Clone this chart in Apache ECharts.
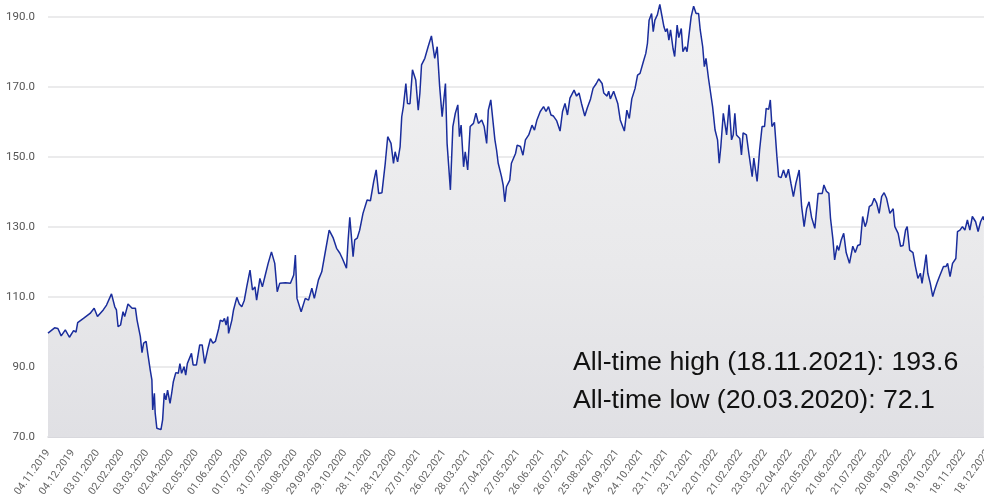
<!DOCTYPE html>
<html>
<head>
<meta charset="utf-8">
<script src="https://cdn.jsdelivr.net/npm/echarts@6/dist/echarts.min.js"></script>
<style>
html, body { margin: 0; padding: 0; background: #fff; }
#chart { width: 984px; height: 501px; }
</style>
</head>
<body>
<div id="chart"></div>
<script>
// days counted from 04.11.2019
let days = [
    0, 2, 8, 12, 16, 21, 26, 31, 34, 36, 43, 51, 56, 60, 67, 71, 77, 81, 83, 85,
    88, 91, 93, 97, 102, 106, 108, 112, 114, 116, 119, 121, 124, 126, 127, 129, 130, 132, 134, 137,
    139, 141, 143, 145, 148, 150, 152, 155, 158, 160, 162, 165, 167, 169, 174, 176, 180, 184, 187, 190,
    194, 197, 200, 203, 205, 207, 209, 212, 214, 216, 218, 219, 223, 225, 229, 232, 235, 238, 241, 245,
    248, 251, 253, 257, 260, 263, 267, 271, 275, 278, 281, 288, 294, 298, 300, 302, 307, 312, 316, 320,
    323, 328, 332, 336, 341, 346, 350, 354, 357, 362, 364, 366, 370, 372, 375, 378, 382, 387, 391, 395,
    398, 401, 405, 409, 412, 416, 419, 421, 424, 427, 429, 431, 434, 436, 439, 442, 446, 449, 451, 453,
    457, 461, 465, 467, 469, 472, 475, 478, 482, 484, 488, 491, 494, 497, 499, 501, 504, 506, 509, 512,
    516, 519, 522, 526, 529, 532, 534, 537, 542, 544, 546, 548, 550, 552, 554, 556, 560, 562, 567, 569,
    573, 576, 579, 583, 587, 590, 593, 597, 601, 604, 607, 610, 613, 617, 621, 624, 627, 630, 633, 638,
    641, 644, 647, 651, 654, 658, 661, 665, 668, 672, 674, 678, 680, 682, 686, 688, 691, 694, 696, 699,
    702, 705, 708, 712, 715, 718, 722, 725, 727, 729, 732, 734, 736, 739, 742, 744, 747, 749, 751, 753,
    755, 758, 760, 763, 765, 768, 770, 773, 775, 777, 780, 783, 786, 789, 791, 794, 796, 798, 801, 803,
    806, 809, 812, 814, 816, 819, 823, 826, 829, 831, 833, 835, 839, 841, 843, 847, 850, 854, 856, 860,
    863, 866, 869, 871, 874, 876, 878, 881, 884, 886, 889, 892, 895, 898, 901, 904, 907, 911, 914, 917,
    920, 923, 926, 930, 934, 939, 941, 944, 947, 949, 952, 954, 957, 959, 962, 965, 968, 972, 976, 979,
    982, 985, 988, 991, 993, 996, 999, 1002, 1005, 1008, 1011, 1014, 1017, 1021, 1025, 1027, 1031, 1034, 1037, 1040,
    1042, 1045, 1049, 1052, 1055, 1058, 1060, 1063, 1065, 1067, 1070, 1073, 1075, 1078, 1081, 1083, 1086, 1089, 1091, 1094,
    1097, 1099, 1101, 1103, 1106, 1109, 1112, 1115, 1118, 1121, 1125, 1128, 1131, 1134, 1135
];

let prices = [
    99.7, 100, 101.2, 101, 98.9, 100.6, 98.5, 100.4, 100, 102.7, 103.9, 105.3, 106.8, 104.4, 106.3, 107.7, 110.9, 107.2, 106.3, 101.5,
    102, 105.8, 104.4, 108, 106.8, 106.8, 103.4, 98.7, 94.1, 96.8, 97.3, 93.9, 89.1, 86.3, 77.7, 82.5, 76.8, 72.5, 72.4, 72.1,
    74.9, 82.5, 80.6, 83.4, 79.6, 82.5, 85.8, 88.4, 88.2, 91, 88.2, 90.1, 87.7, 91, 93.9, 90.6, 90.6, 96.3, 96.3, 91,
    95.3, 98.1, 96.8, 97.3, 96.8, 101, 103.4, 103, 103.9, 102, 104.4, 99.6, 103.4, 106.3, 109.9, 108, 107.2, 109, 112.9, 117.7,
    112, 112.9, 109.1, 115.3, 112.9, 115.8, 119.6, 122.9, 119.6, 111.5, 113.9, 114.1, 113.9, 116.3, 122, 109.6, 105.8, 109.6, 109.1, 112.5,
    109.6, 114.9, 117.2, 122.5, 129.1, 126.8, 123.9, 122.5, 121, 118.2, 126.3, 132.8, 121.5, 126.3, 126.8, 129.1, 133.9, 137.7, 137.5, 143,
    146.3, 139.6, 139.8, 148.2, 155.8, 153.9, 148.2, 151.5, 148.6, 152.9, 161.5, 164.4, 171, 165.3, 165.2, 174.9, 172, 163.4, 168.2, 176.3,
    178.2, 181.5, 184.6, 184.4, 178.2, 181.5, 170.1, 161.5, 171, 153.9, 140.6, 158.7, 162.5, 164.9, 155.8, 159.1, 147.2, 151.5, 146.3, 158.7,
    159.6, 162.5, 159.6, 160.6, 158.7, 153.9, 163.4, 166.3, 154.9, 152, 148.2, 148.6, 144.4, 142, 137.2, 141.5, 143.4, 148.2, 151, 153.4,
    153, 150.5, 154.9, 156.3, 159.1, 157.7, 160.6, 163, 164.4, 163, 164.4, 162, 161.7, 160.3, 157.4, 163, 165.3, 162, 166.8, 169.1,
    167.4, 168.3, 165.3, 161.7, 164, 166.6, 169.6, 171, 172.3, 171, 168.3, 167.4, 168.8, 166.6, 168.8, 168.3, 165.3, 160.6, 161, 157.4,
    163.4, 161, 166.6, 169.6, 173.4, 173.9, 177.2, 179.6, 182.5, 189.1, 191, 185.8, 189.1, 190.6, 193.6, 191, 187.2, 185.8, 186.7, 183.4,
    186.3, 181, 178.7, 187.7, 184.1, 186.7, 180.1, 181.5, 180.1, 179.6, 190.1, 193.1, 191, 191, 186.3, 181.5, 175.8, 178.2, 172.5, 172.7,
    164.4, 157.7, 154.9, 148.2, 153, 162.5, 156.3, 164.9, 154.9, 156.3, 162.5, 156.3, 155.3, 150.6, 156.9, 156.3, 151, 144.4, 149.7, 143,
    152, 158.7, 158.7, 163.9, 163.6, 166.3, 158.7, 159.9, 150.1, 144.4, 144.1, 146.3, 144.1, 146.5, 142.5, 138.7, 142.5, 146.3, 135.8, 130.1,
    135.2, 137.2, 132.8, 129.6, 139.6, 139.6, 142, 140.2, 139.6, 132.5, 126.3, 120.6, 124.7, 123.3, 126.3, 128.2, 122.7, 119.6, 124.5, 122.7,
    124.7, 125, 133, 130.1, 131.5, 135.8, 136.3, 138.2, 136.8, 133.9, 138.7, 139.8, 138.2, 133.9, 135.2, 130.1, 128.2, 124.5, 124.7, 129.1,
    130.1, 123.4, 122.7, 118.7, 115.3, 116.8, 113.9, 118.7, 122.1, 116.8, 113.9, 110.1, 111.8, 113.9, 115.8, 115.3, 118.7, 118.7, 119.6, 115.8,
    119.6, 119.2, 121, 128.7, 129.1, 130.1, 129.1, 132, 129.1, 133, 131.5, 128.7, 131.5, 133, 132
];

// one label every 30 days
let tickLabels = [
    '04.11.2019', '04.12.2019', '03.01.2020', '02.02.2020', '03.03.2020', '02.04.2020', '02.05.2020',
    '01.06.2020', '01.07.2020', '31.07.2020', '30.08.2020', '29.09.2020', '29.10.2020', '28.11.2020',
    '28.12.2020', '27.01.2021', '26.02.2021', '28.03.2021', '27.04.2021', '27.05.2021', '26.06.2021',
    '26.07.2021', '25.08.2021', '24.09.2021', '24.10.2021', '23.11.2021', '23.12.2021', '22.01.2022',
    '21.02.2022', '23.03.2022', '22.04.2022', '22.05.2022', '21.06.2022', '21.07.2022', '20.08.2022',
    '19.09.2022', '19.10.2022', '18.11.2022', '18.12.2022'
];

let notes = [
    'All-time high (18.11.2021): 193.6',
    'All-time low (20.03.2020): 72.1'
];

let chart = echarts.init(document.getElementById('chart'));

let option = {
    animation: false,
    backgroundColor: '#fff',
    grid: {
        left: 48,
        right: -4,
        top: 3,
        bottom: 64,
        outerBoundsMode: 'none'
    },
    xAxis: {
        type: 'value',
        min: 0,
        max: 1140,
        interval: 30,
        splitLine: { show: false },
        axisTick: { show: false },
        axisLine: { lineStyle: { color: '#d2d2d8', width: 1.5 } },
        axisLabel: {
            rotate: 54,
            margin: 14,
            fontSize: 10.5,
            color: '#666',
            fontFamily: 'Roboto, sans-serif',
            formatter: function (v) {
                return tickLabels[Math.round(v / 30)] || '';
            }
        }
    },
    yAxis: {
        type: 'value',
        min: 70,
        max: 194,
        interval: 20,
        axisLine: { show: false },
        axisTick: { show: false },
        axisLabel: {
            showMaxLabel: false,
            margin: 13,
            fontSize: 11.5,
            color: '#555',
            fontFamily: 'Roboto, sans-serif',
            formatter: function (v) {
                return v.toFixed(1);
            }
        },
        splitLine: {
            showMaxLine: false,
            lineStyle: { color: '#e4e4e6', width: 1.5 }
        }
    },
    series: [
        {
            type: 'line',
            data: days.map(function (d, i) { return [d, prices[i]]; }),
            symbol: 'none',
            lineStyle: { color: '#1a2d9c', width: 1.5 },
            areaStyle: {
                origin: 'start',
                opacity: 1,
                color: new echarts.graphic.LinearGradient(0, 0, 0, 1, [
                    { offset: 0, color: '#f1f1f2' },
                    { offset: 0.6, color: '#e9e9eb' },
                    { offset: 1, color: '#e0e0e4' }
                ])
            }
        }
    ],
    graphic: [
        {
            type: 'text',
            x: 573,
            y: 363,
            z: 100,
            style: {
                text: notes[0],
                fontSize: 26.7,
                fontFamily: '"Liberation Sans", Arial, sans-serif',
                fill: '#111',
                verticalAlign: 'middle'
            }
        },
        {
            type: 'text',
            x: 573,
            y: 401,
            z: 100,
            style: {
                text: notes[1],
                fontSize: 26.7,
                fontFamily: '"Liberation Sans", Arial, sans-serif',
                fill: '#111',
                verticalAlign: 'middle'
            }
        }
    ]
};

chart.setOption(option);
</script>
</body>
</html>
